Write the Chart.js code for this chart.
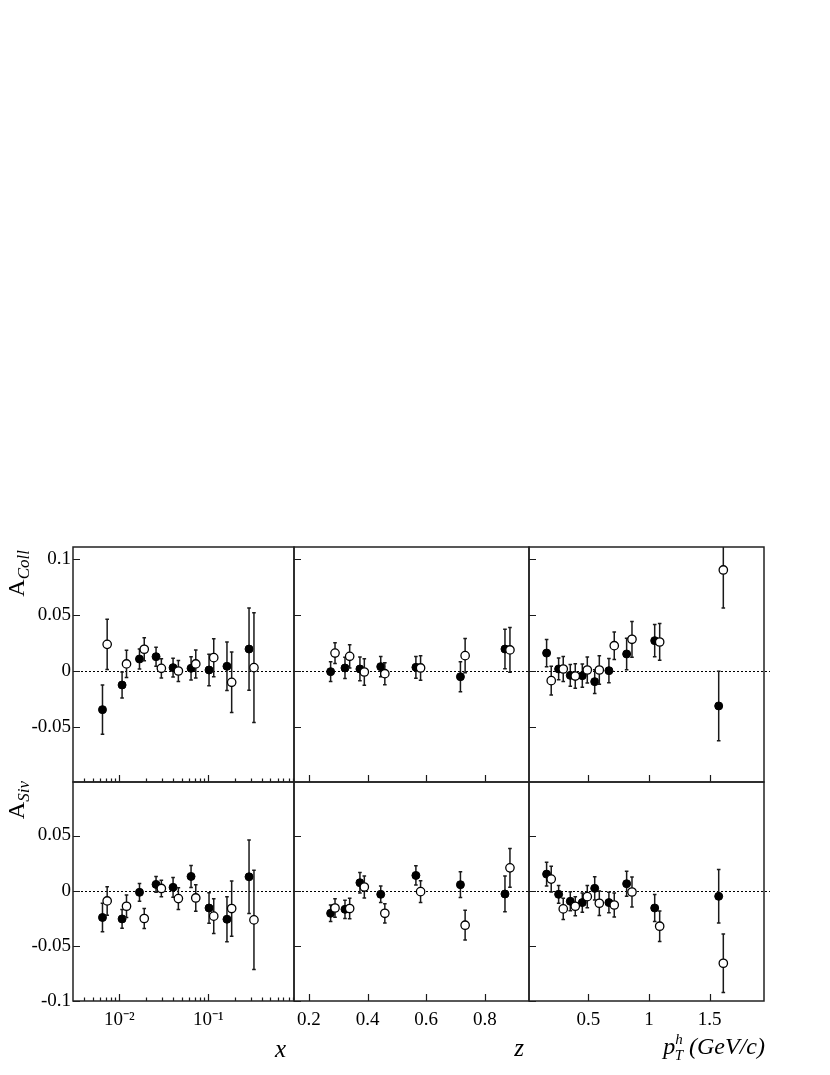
<!DOCTYPE html>
<html lang="en">
<head>
<meta charset="UTF-8" />
<title>Collins and Sivers asymmetries</title>
<script src="https://cdn.jsdelivr.net/npm/chart.js"></script>
<style>
    body { margin: 0; background: #fff; }
    #page { position: relative; width: 830px; height: 1075px; font-family: "Liberation Serif", "Times New Roman", serif; }
    #page canvas { position: absolute; left: 0; top: 0; }
    .ytitle {
        position: absolute; width: 100px; text-align: right; line-height: 24px;
        font-size: 24px; transform-origin: 0 0; transform: rotate(-90deg); white-space: nowrap;
    }
    .ytitle sub { font-size: 17px; font-style: italic; vertical-align: -5px; }
    .xtitle {
        position: absolute; text-align: right; font-style: italic; font-size: 25px;
        line-height: 24px; white-space: nowrap;
    }
    .hT { position: relative; font-size: 15px; }
</style>
</head>
<body>
<div id="page">
    <canvas id="c0" width="830" height="1075"></canvas>
    <canvas id="c1" width="830" height="1075"></canvas>
    <canvas id="c2" width="830" height="1075"></canvas>
    <canvas id="c3" width="830" height="1075"></canvas>
    <canvas id="c4" width="830" height="1075"></canvas>
    <canvas id="c5" width="830" height="1075"></canvas>

    <div class="ytitle" style="left:4px; top:650px">A<sub>Coll</sub></div>
    <div class="ytitle" style="left:4px; top:881px">A<sub>Siv</sub></div>
    <div class="xtitle" style="left:186px; width:100px; top:1037px">x</div>
    <div class="xtitle" style="left:424px; width:100px; top:1036px">z</div>
    <div class="xtitle" style="left:590px; width:175px; top:1034px; font-size:24px">p<span class="hT" style="top:-10px">h</span><span class="hT" style="top:6px; margin-left:-8px">T</span> (GeV/c)</div>
</div>

<script>
// x bins (filled = h+, open = h-)
const xPos = [0.00644, 0.0107, 0.0168, 0.0258, 0.0401, 0.0639, 0.1018, 0.162, 0.287];
const xNeg = [0.00727, 0.0120, 0.0190, 0.0296, 0.0460, 0.0722, 0.115, 0.183, 0.326];
const collXPos = [-0.0345, -0.0125, 0.0107, 0.0128, 0.003, 0.0024, 0.0009, 0.0042, 0.0196];
const collXPosErr = [0.022, 0.0115, 0.009, 0.0085, 0.0083, 0.0104, 0.014, 0.0217, 0.0367];
const collXNeg = [0.0238, 0.0063, 0.0194, 0.0024, 0.0, 0.0063, 0.0119, -0.0101, 0.003];
const collXNegErr = [0.0224, 0.0122, 0.0103, 0.0086, 0.0094, 0.0125, 0.017, 0.027, 0.049];
const sivXPos = [-0.0243, -0.0256, -0.0015, 0.0057, 0.003, 0.0129, -0.0157, -0.0259, 0.0126];
const sivXPosErr = [0.013, 0.0085, 0.008, 0.0072, 0.0089, 0.01, 0.0138, 0.0203, 0.0333];
const sivXNeg = [-0.0093, -0.0141, -0.0252, 0.002, -0.0072, -0.0066, -0.0231, -0.0162, -0.0265];
const sivXNegErr = [0.0129, 0.0102, 0.009, 0.0074, 0.0098, 0.012, 0.0158, 0.025, 0.0449];

// z bins
const zPos = [0.274, 0.323, 0.374, 0.445, 0.565, 0.717, 0.869];
const zNeg = [0.289, 0.339, 0.389, 0.459, 0.581, 0.733, 0.886];
const collZPos = [-0.0006, 0.0027, 0.0018, 0.0039, 0.0033, -0.0051, 0.0196];
const collZPosErr = [0.0088, 0.0095, 0.0106, 0.009, 0.0097, 0.0134, 0.0177];
const collZNeg = [0.016, 0.0131, -0.0009, -0.0024, 0.0027, 0.0137, 0.0188];
const collZNegErr = [0.0092, 0.0104, 0.0119, 0.0098, 0.011, 0.0153, 0.02];
const sivZPos = [-0.0205, -0.0169, 0.0072, -0.0033, 0.0138, 0.0054, -0.003];
const sivZPosErr = [0.0075, 0.0083, 0.0093, 0.0075, 0.0087, 0.0117, 0.0162];
const sivZNeg = [-0.0157, -0.0162, 0.0033, -0.0205, -0.0009, -0.0313, 0.0207];
const sivZNegErr = [0.0083, 0.0093, 0.01, 0.0087, 0.0098, 0.0135, 0.0176];

// pT bins
const ptPos = [0.157, 0.256, 0.352, 0.451, 0.553, 0.670, 0.816, 1.047, 1.574];
const ptNeg = [0.195, 0.294, 0.393, 0.492, 0.591, 0.714, 0.860, 1.088, 1.612];
const collPtPos = [0.016, 0.0018, -0.0039, -0.0042, -0.0095, 0.0003, 0.0152, 0.0271, -0.0312];
const collPtPosErr = [0.0122, 0.0097, 0.0098, 0.0104, 0.0107, 0.0109, 0.014, 0.0144, 0.031];
const collPtNeg = [-0.0086, 0.0018, -0.0045, 0.0009, 0.0009, 0.0226, 0.0283, 0.0259, 0.0902];
const collPtNegErr = [0.0128, 0.0112, 0.0109, 0.0116, 0.0127, 0.0123, 0.016, 0.0164, 0.034];
const sivPtPos = [0.015, -0.0033, -0.0096, -0.0108, 0.0021, -0.0108, 0.0063, -0.0157, -0.0051];
const sivPtPosErr = [0.0108, 0.0081, 0.0086, 0.0087, 0.0105, 0.0093, 0.0114, 0.0122, 0.0243];
const sivPtNeg = [0.0105, -0.0165, -0.0141, -0.0054, -0.0114, -0.013, -0.0012, -0.0322, -0.0658];
const sivPtNegErr = [0.0117, 0.0096, 0.0087, 0.01, 0.011, 0.0108, 0.0135, 0.0138, 0.0266];

// ticks
const xMajorTicks = [0.01, 0.1];
const xMajorLabels = ['10\u207B\u00B2', '10\u207B\u00B9'];
const xMinorTicks = [0.004, 0.005, 0.006, 0.007, 0.008, 0.009,
                     0.02, 0.03, 0.04, 0.05, 0.06, 0.07, 0.08, 0.09,
                     0.2, 0.3, 0.4, 0.5, 0.6, 0.7, 0.8, 0.9];
const zTicks = [0.2, 0.4, 0.6, 0.8];
const zTickLabels = ['0.2', '0.4', '0.6', '0.8'];
const ptTicks = [0.5, 1, 1.5];
const ptTickLabels = ['0.5', '1', '1.5'];
const collTicks = [-0.05, 0, 0.05, 0.1];
const collTickLabels = ['-0.05', '0', '0.05', '0.1'];
const sivTicks = [-0.1, -0.05, 0, 0.05];
const sivTickLabels = ['-0.1', '-0.05', '0', '0.05'];

const FONT = '"Liberation Serif", "Times New Roman", serif';
const colEdges = [73, 294, 529, 764];
const rowEdges = [547, 782, 1001];
const Y_LABEL_W = 70;   // room for y tick labels (left column)
const X_LABEL_H = 40;   // room for x tick labels (bottom row)

// error bars, zero line, frame and inward ticks
const panelPlugin = {
    id: 'panel',
    beforeDatasetsDraw(chart) {
        const { ctx, chartArea: a, scales: { y } } = chart;
        const y0 = Math.round(y.getPixelForValue(0)) + 0.5;
        ctx.save();
        ctx.setLineDash([2, 2]);
        ctx.strokeStyle = '#000';
        ctx.lineWidth = 1;
        ctx.beginPath();
        ctx.moveTo(a.left, y0);
        ctx.lineTo(a.right + (chart.options.zeroExtra || 0), y0);
        ctx.stroke();
        ctx.restore();
    },
    beforeDatasetDraw(chart, args) {
        const { ctx, chartArea: a, scales: { y } } = chart;
        const ds = chart.data.datasets[args.index];
        ctx.save();
        ctx.beginPath();
        ctx.rect(a.left, a.top, a.width, a.height);
        ctx.clip();
        ctx.strokeStyle = '#1a1a1a';
        ctx.lineWidth = 1.5;
        args.meta.data.forEach((pt, j) => {
            const v = ds.data[j].y, e = ds.errors[j];
            const px = pt.x;
            const t = y.getPixelForValue(v + e), b = y.getPixelForValue(v - e);
            ctx.beginPath();
            ctx.moveTo(px, t); ctx.lineTo(px, b);
            ctx.moveTo(px - 1.8, t); ctx.lineTo(px + 1.8, t);
            ctx.moveTo(px - 1.8, b); ctx.lineTo(px + 1.8, b);
            ctx.stroke();
        });
        ctx.restore();
    },
    afterDraw(chart) {
        const { ctx, chartArea: a, scales: { x, y } } = chart;
        ctx.save();
        ctx.strokeStyle = '#1a1a1a';
        ctx.lineWidth = 1.2;
        ctx.beginPath();
        y.ticks.forEach(t => {
            if (t.value < y.min - 1e-9 || t.value > y.max + 1e-9) return;
            const py = Math.round(y.getPixelForValue(t.value)) + 0.5;
            ctx.moveTo(a.left, py); ctx.lineTo(a.left + 7, py);
        });
        x.ticks.forEach(t => {
            if (t.value < x.min || t.value > x.max) return;
            const px = Math.round(x.getPixelForValue(t.value)) + 0.5;
            ctx.moveTo(px, a.bottom); ctx.lineTo(px, a.bottom - (t.big ? 7 : 3.5));
        });
        ctx.stroke();
        ctx.strokeStyle = '#222';
        ctx.lineWidth = 1.5;
        ctx.strokeRect(a.left, a.top, a.width, a.height);
        ctx.restore();
    }
};

function errorSet(label, xs, ys, es, filled) {
    return {
        label,
        data: xs.map((v, i) => ({ x: v, y: ys[i] })),
        errors: es,
        pointRadius: filled ? 4 : 4.2,
        pointBackgroundColor: filled ? '#000' : '#fff',
        pointBorderColor: '#000',
        pointBorderWidth: filled ? 1 : 1.3,
        order: filled ? 2 : 1
    };
}

function makePanel(id, col, row, xAxis, sets) {
    const showY = col === 0, showX = row === 1;
    const yTicks = row === 0 ? collTicks : sivTicks;
    const yLabels = row === 0 ? collTickLabels : sivTickLabels;
    const yW = showY ? Y_LABEL_W : 0, xH = showX ? X_LABEL_H : 0;
    const left = colEdges[col], right = colEdges[col + 1];
    const top = rowEdges[row], bottom = rowEdges[row + 1];
    new Chart(document.getElementById(id), {
        type: 'scatter',
        data: { datasets: sets },
        options: {
            responsive: false,
            animation: false,
            devicePixelRatio: 1,
            events: [],
            zeroExtra: col === 2 ? 6 : 0,
            layout: { padding: { left: left - yW, top, right: 830 - right, bottom: 1075 - bottom - xH } },
            plugins: { legend: { display: false }, tooltip: { enabled: false } },
            scales: {
                x: {
                    type: xAxis.type,
                    min: xAxis.min, max: xAxis.max,
                    grid: { display: false, drawTicks: false },
                    border: { display: false },
                    afterFit(s) { s.height = xH; },
                    afterBuildTicks(s) { s.ticks = xAxis.ticks(); },
                    ticks: {
                        display: showX, autoSkip: false, maxRotation: 0, minRotation: 0, padding: 8,
                        color: '#000', font: { family: FONT, size: 19 },
                        callback: xAxis.label
                    }
                },
                y: {
                    min: row === 0 ? -0.0991 : -0.1,
                    max: row === 0 ? 0.1107 : 0.0985,
                    grid: { display: false, drawTicks: false },
                    border: { display: false },
                    afterFit(s) { s.width = yW; },
                    afterBuildTicks(s) { s.ticks = yTicks.map(v => ({ value: v })); },
                    ticks: {
                        display: showY, autoSkip: false, padding: 2,
                        color: '#000', font: { family: FONT, size: 19 },
                        callback: (v, i) => yLabels[i]
                    }
                }
            }
        },
        plugins: [panelPlugin]
    });
}

const xAxisLog = {
    type: 'logarithmic', min: 0.003, max: 0.92,
    ticks: () => xMajorTicks.map(v => ({ value: v, big: true }))
        .concat(xMinorTicks.map(v => ({ value: v, big: false })))
        .sort((p, q) => p.value - q.value),
    label: (v) => {
        const k = xMajorTicks.findIndex(m => Math.abs(m - v) < m * 1e-6);
        return k >= 0 ? xMajorLabels[k] : '';
    }
};
const zAxis = {
    type: 'linear', min: 0.149, max: 0.951,
    ticks: () => zTicks.map(v => ({ value: v, big: true })),
    label: (v, i) => zTickLabels[i]
};
const ptAxis = {
    type: 'linear', min: 0.012, max: 1.947,
    ticks: () => ptTicks.map(v => ({ value: v, big: true })),
    label: (v, i) => ptTickLabels[i]
};

makePanel('c0', 0, 0, xAxisLog, [
    errorSet('h+', xPos, collXPos, collXPosErr, true),
    errorSet('h-', xNeg, collXNeg, collXNegErr, false)
]);
makePanel('c1', 1, 0, zAxis, [
    errorSet('h+', zPos, collZPos, collZPosErr, true),
    errorSet('h-', zNeg, collZNeg, collZNegErr, false)
]);
makePanel('c2', 2, 0, ptAxis, [
    errorSet('h+', ptPos, collPtPos, collPtPosErr, true),
    errorSet('h-', ptNeg, collPtNeg, collPtNegErr, false)
]);
makePanel('c3', 0, 1, xAxisLog, [
    errorSet('h+', xPos, sivXPos, sivXPosErr, true),
    errorSet('h-', xNeg, sivXNeg, sivXNegErr, false)
]);
makePanel('c4', 1, 1, zAxis, [
    errorSet('h+', zPos, sivZPos, sivZPosErr, true),
    errorSet('h-', zNeg, sivZNeg, sivZNegErr, false)
]);
makePanel('c5', 2, 1, ptAxis, [
    errorSet('h+', ptPos, sivPtPos, sivPtPosErr, true),
    errorSet('h-', ptNeg, sivPtNeg, sivPtNegErr, false)
]);
</script>
</body>
</html>
